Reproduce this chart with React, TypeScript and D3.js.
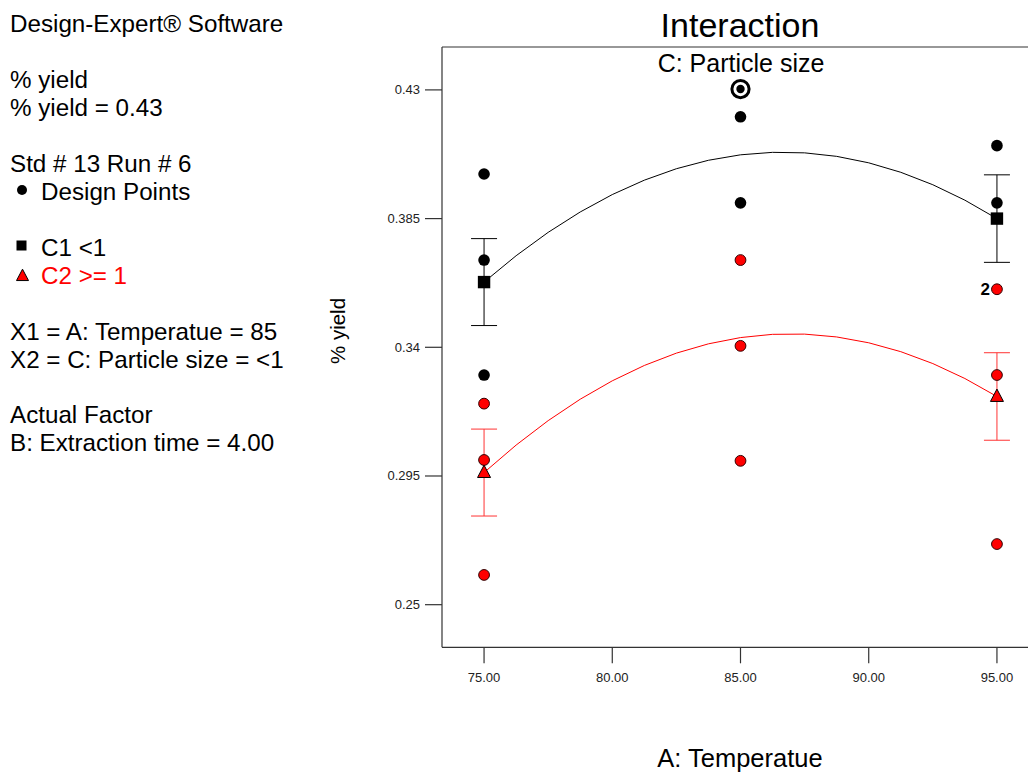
import React from "react";
import * as d3 from "d3";

// ---- data ----
const xTicks = [75, 80, 85, 90, 95];
const yTicks = [0.25, 0.295, 0.34, 0.385, 0.43];
const levels = [75, 85, 95];

// design points: C1 (<1), black
const c1PointsX = [75, 75, 75, 85, 85, 95, 95];
const c1PointsY = [0.4006, 0.3705, 0.3303, 0.4206, 0.3905, 0.4105, 0.3905];
// design points: C2 (>=1), red
const c2PointsX = [75, 75, 75, 85, 85, 85, 95, 95, 95];
const c2PointsY = [0.3203, 0.3006, 0.2604, 0.3705, 0.3405, 0.3003, 0.3603, 0.3303, 0.2712];
// selected point (Std #13 Run #6)
const selectedX = 85;
const selectedY = 0.4303;
// replicate count label
const repLabelX = 95;
const repLabelY = 0.3603;
const repLabel = "2";

// predicted means at A = 75, 85, 95
const c1Means = [0.3628, 0.4073, 0.385];
const c2Means = [0.2962, 0.3434, 0.3228];
// LSD half-widths at A = 75 and 95
const c1Err = [0.0152, 0.0153];
const c2Err = [0.0152, 0.0153];

const legendLines = [
  "Design-Expert® Software",
  "",
  "% yield",
  "% yield = 0.43",
  "",
  "Std # 13 Run # 6",
];
const infoLines = [
  "X1 = A: Temperatue = 85",
  "X2 = C: Particle size = <1",
  "",
  "Actual Factor",
  "B: Extraction time = 4.00",
];

const W = 1028;
const H = 774;
const FONT = "'Liberation Sans', Arial, sans-serif";

export default function App() {
  const x = d3.scaleLinear().domain([73.36, 96.64]).range([442, 1039]);
  const y = d3.scaleLinear().domain([0.2351, 0.445]).range([647.3, 47]);
  const [x0, x1] = x.range();
  const [yb, yt] = y.range();

  const parabola = (means: number[]) => {
    const p = d3.path();
    const P0 = [x(levels[0]), y(means[0])];
    const Pm = [x(levels[1]), y(means[1])];
    const P2 = [x(levels[2]), y(means[2])];
    const cx = 2 * Pm[0] - (P0[0] + P2[0]) / 2;
    const cy = 2 * Pm[1] - (P0[1] + P2[1]) / 2;
    p.moveTo(P0[0], P0[1]);
    p.quadraticCurveTo(cx, cy, P2[0], P2[1]);
    return p.toString();
  };

  const errBars = (means: number[], errs: number[], color: string) =>
    [0, 2].map((li, k) => {
      const cx = x(levels[li]);
      const top = y(means[li] + errs[k]);
      const bot = y(means[li] - errs[k]);
      return (
        <g key={li} stroke={color} strokeWidth={1}>
          <line x1={cx} x2={cx} y1={top} y2={bot} />
          <line x1={cx - 13} x2={cx + 13} y1={top} y2={top} />
          <line x1={cx - 13} x2={cx + 13} y1={bot} y2={bot} />
        </g>
      );
    });

  const tri = (cx: number, cy: number, s: number) => {
    const h = s * 0.95;
    return `M${cx},${cy - h * 0.6}L${cx + s / 2},${cy + h * 0.4}L${cx - s / 2},${cy + h * 0.4}Z`;
  };

  return (
    <svg
      width={W}
      height={H}
      style={{ position: "absolute", left: 0, top: 0, background: "#fff" }}
      fontFamily={FONT}
    >
      <rect x={0} y={0} width={W} height={H} fill="#fff" />
      {/* left legend */}
      <g fontSize={24.2} fill="#000">
        {legendLines.map((t, i) => (
          <text key={i} x={10} y={32 + i * 28}>{t}</text>
        ))}
        <circle cx={22} cy={190} r={5} fill="#000" />
        <text x={41} y={200}>Design Points</text>
        <rect x={16.5} y={240.5} width={10} height={10} fill="#000" />
        <text x={41} y={256}>C1 &lt;1</text>
        <path d={tri(22.5, 276, 12)} fill="#f00" stroke="#000" strokeWidth={1} />
        <text x={41} y={284} fill="#f00">C2 &gt;= 1</text>
        {infoLines.map((t, i) => (
          <text key={i} x={10} y={340 + i * 27.7}>{t}</text>
        ))}
      </g>

      {/* titles */}
      <text x={740} y={37} fontSize={34} textAnchor="middle">Interaction</text>
      <text x={741} y={72} fontSize={25} textAnchor="middle">C: Particle size</text>
      <text x={740} y={767} fontSize={25.5} textAnchor="middle">A: Temperatue</text>
      <text
        transform={`translate(345,331) rotate(-90)`}
        fontSize={20.5}
        textAnchor="middle"
      >
        % yield
      </text>

      {/* frame */}
      <g stroke="#333" strokeWidth={1.2} fill="none">
        <line x1={x0} x2={x0} y1={yt} y2={yb} />
        <line x1={x0} x2={x1} y1={yt} y2={yt} />
        <line x1={x0} x2={x1} y1={yb} y2={yb} />
        <line x1={x1} x2={x1} y1={yt} y2={yb} />
      </g>

      {/* y axis */}
      {yTicks.map((t) => (
        <g key={t}>
          <line x1={x0 - 17} x2={x0} y1={y(t)} y2={y(t)} stroke="#333" strokeWidth={1.2} />
          <text x={x0 - 22} y={y(t) + 4.5} fontSize={13} textAnchor="end" fill="#222">
            {t}
          </text>
        </g>
      ))}
      {/* x axis */}
      {xTicks.map((t) => (
        <g key={t}>
          <line x1={x(t)} x2={x(t)} y1={yb} y2={yb + 16} stroke="#333" strokeWidth={1.2} />
          <text x={x(t)} y={yb + 35} fontSize={13} textAnchor="middle" fill="#222">
            {d3.format(".2f")(t)}
          </text>
        </g>
      ))}

      {/* curves */}
      <path d={parabola(c1Means)} fill="none" stroke="#000" strokeWidth={1} />
      <path d={parabola(c2Means)} fill="none" stroke="#f00" strokeWidth={1} />

      {/* error bars */}
      {errBars(c1Means, c1Err, "#000")}
      {errBars(c2Means, c2Err, "#f33")}

      {/* design points */}
      {c1PointsX.map((px, i) => (
        <circle key={"b" + i} cx={x(px)} cy={y(c1PointsY[i])} r={5.8} fill="#000" />
      ))}
      {c2PointsX.map((px, i) => (
        <circle
          key={"r" + i}
          cx={x(px)}
          cy={y(c2PointsY[i])}
          r={5.4}
          fill="#f00"
          stroke="#300"
          strokeWidth={1}
        />
      ))}
      <circle cx={x(selectedX)} cy={y(selectedY)} r={8.6} fill="#fff" stroke="#000" strokeWidth={3} />
      <circle cx={x(selectedX)} cy={y(selectedY)} r={4.2} fill="#000" />
      <text
        x={x(repLabelX) - 7}
        y={y(repLabelY) + 6}
        fontSize={17}
        fontWeight="bold"
        textAnchor="end"
      >
        {repLabel}
      </text>

      {/* mean markers */}
      {[0, 2].map((li) => (
        <rect
          key={"s" + li}
          x={x(levels[li]) - 6.2}
          y={y(c1Means[li]) - 6.2}
          width={12.4}
          height={12.4}
          fill="#000"
        />
      ))}
      {[0, 2].map((li) => (
        <path
          key={"t" + li}
          d={tri(x(levels[li]), y(c2Means[li]), 13)}
          fill="#f00"
          stroke="#000"
          strokeWidth={1}
        />
      ))}
    </svg>
  );
}
